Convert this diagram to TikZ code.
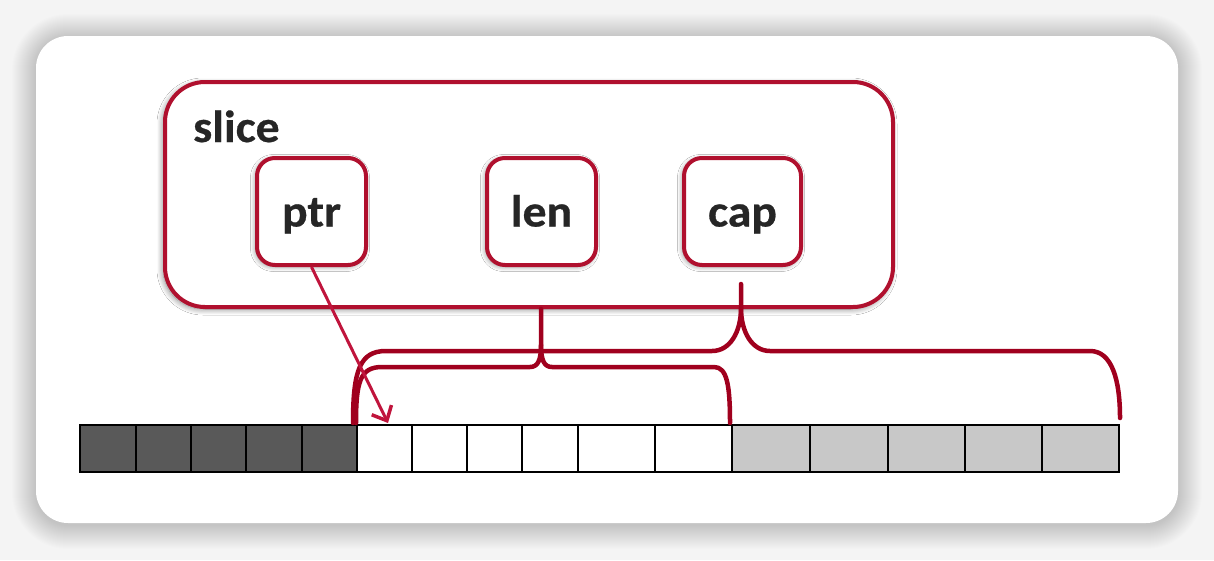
\documentclass[tikz,border=0pt]{standalone}
\usepackage{fontspec}
\newfontfamily\lbl{Carlito}[FakeStretch=1.06,FakeBold=0.6]
\usetikzlibrary{arrows.meta,shadows.blur}
\definecolor{bg}{HTML}{F4F4F4}
\definecolor{boxred}{HTML}{B0102E}
\definecolor{bracered}{HTML}{A0001E}
\definecolor{arrowred}{HTML}{C0143C}
\definecolor{darkcell}{HTML}{595959}
\definecolor{lightcell}{HTML}{C8C8C8}
\definecolor{txt}{HTML}{262626}
\tikzset{
  card/.style={fill=white, rounded corners=32pt},
  cardshade/.style={fill=black, fill opacity=0.0075},
  slicebox/.style={draw=boxred, line width=4pt, fill=white, rounded corners=40pt,
     blur shadow={shadow blur radius=6pt, shadow blur steps=12, shadow xshift=-2pt, shadow yshift=-2pt, shadow opacity=50}},
  field/.style={draw=boxred, line width=4pt, fill=white, rounded corners=18pt,
     minimum height=107pt, inner sep=0pt, text height=30pt, text depth=0pt,
     font=\lbl\bfseries\fontsize{45}{48}\selectfont, text=txt,
     blur shadow={shadow blur radius=5pt, shadow blur steps=10, shadow xshift=-1.5pt, shadow yshift=-1.5pt, shadow opacity=45}},
  brace/.style={draw=bracered, line width=4.5pt, line cap=round, line join=round},
  ptrarrow/.style={draw=arrowred, line width=3pt, -{Straight Barb[length=12pt,width=22pt,line width=3.5pt]}},
  cellline/.style={draw=black, line width=1.8pt}
}
\begin{document}
\begin{tikzpicture}[x=1pt,y=-1pt]
\useasboundingbox (0,0) rectangle (1214,560);
\fill[bg] (0,0) rectangle (1214,560);
% soft shadow of the card
\foreach \i in {1,...,24}{
  \path[cardshade, rounded corners={32pt+\i pt}] ({36-\i},{38-\i}) rectangle ({1178+\i},{525+\i});
}
\path[card] (36,36) rectangle (1178,523);

% slice container
\path[slicebox] (165,82) rectangle (893,307);
\node[anchor=base west, font=\lbl\bfseries\fontsize{45}{48}\selectfont, text=txt, inner sep=0pt] (slicelbl) at (193,142) {slice};

% fields
\node[field, minimum width=109pt] (ptr) at (311.5,211.5) {ptr};
\node[field, minimum width=109pt] (len) at (541.5,211.5) {len};
\node[field, minimum width=117pt] (cap) at (742.5,211.5) {cap};

% array cells
\foreach \a/\b/\c in {80/136/darkcell,136/191/darkcell,191/246/darkcell,246/302/darkcell,302/357/darkcell,
  357/412/white,412/467/white,467/522/white,522/578/white,578/655/white,655/732/white,
  732/810/lightcell,810/888/lightcell,888/965/lightcell,965/1042/lightcell,1042/1119/lightcell}{
  \path[fill=\c] (\a,425) rectangle (\b,472);
}
\foreach \a/\b in {80/136,136/191,191/246,246/302,302/357,357/412,412/467,467/522,522/578,578/655,655/732,732/810,810/888,888/965,965/1042,1042/1119}{
  \draw[cellline] (\a,425) rectangle (\b,472);
}

% len brace
\draw[brace] (356,423) .. controls (356,382) and (360,367) .. (382,367) -- (530,367)
  .. controls (538,367) and (541,360) .. (541,345) -- (541,309);
\draw[brace] (541,345) .. controls (541,360) and (544,367) .. (552,367) -- (714,367)
  .. controls (727,367) and (730,385) .. (730,423);

% cap brace
\draw[brace] (353,423) .. controls (353,370) and (360,351) .. (386,351) -- (712,351)
  .. controls (730,351) and (741,332) .. (741,308) -- (741,284);
\draw[brace] (741,308) .. controls (741,332) and (752,351) .. (770,351) -- (1090,351)
  .. controls (1112,351) and (1120,380) .. (1120,418);

% pointer arrow
\coordinate (tip) at (388,423);
\draw[ptrarrow] (ptr.south) -- (tip);
\end{tikzpicture}
\end{document}
